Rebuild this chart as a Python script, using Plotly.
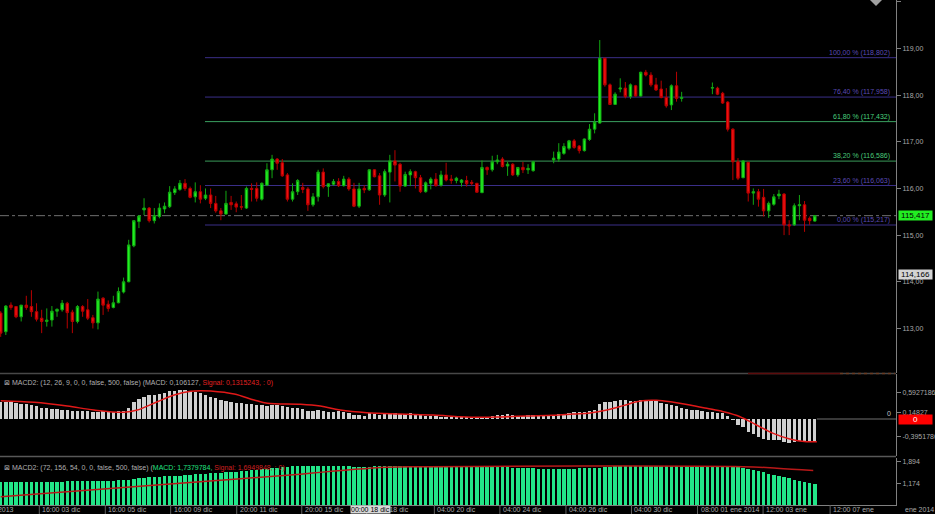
import plotly.graph_objects as go

# ---------------- data (4h bars, USD/JPY-like) ----------------
bar_index = list(range(160))
N = None
opens = [113.33, 112.93, 113.50, 113.47, 113.25, 113.50, 113.47, 113.36, 113.22, 113.15,
         113.18, 113.37, 113.40, 113.54, 113.35, 113.15, 113.47, 113.40, 113.23, 113.12,
         113.65, 113.52, 113.45, 113.55, 113.78, 114.00, 114.77, 115.29, 115.54, 115.58,
         115.31, 115.40, 115.56, 115.61, 115.91, 115.98, 116.11, 116.00, 115.82, 115.93,
         115.79, 115.86, 115.68, 115.52, 115.45, 115.70, 115.67, 115.61, 115.58, 116.00,
         116.00, 115.77, 116.07, 116.40, 116.63, 116.55, 116.29, 115.77, 115.93, 116.02,
         115.99, 115.65, 115.82, 116.35, 116.04, 116.09, 116.15, 116.06, 116.20, 115.99,
         115.62, 116.00, 115.97, 116.40, 116.27, 115.86, 116.35, 116.59, 116.52, 116.05,
         116.29, 116.36, 116.23, 115.93, 116.11, 116.20, 116.07, 116.29, 116.20, 116.17,
         116.13, 116.17, 116.13, 116.11, 115.91, 116.45, 116.40, 116.57, 116.63, 116.48,
         116.52, 116.29, 116.45, 116.40, 116.38, N, N, N, 116.61, 116.63,
         116.75, 116.86, 117.02, 116.91, 116.81, 117.05, 117.27, 117.40, 118.79, 118.22,
         117.80, 118.13, 118.15, 117.97, 118.20, 117.98, 118.49, 118.43, 118.22, 118.13,
         117.95, 117.79, 118.20, 117.93, N, N, N, N, N, 118.15,
         118.15, 118.04, 117.85, 117.27, 116.57, 116.23, 116.56, 115.90, 115.93, 115.81,
         115.52, 115.66, 115.84, 115.88, 115.22, 115.22, 115.63, 115.65, 115.36, 115.30]
highs = [113.37, 113.50, 113.56, 113.47, 113.50, 113.70, 113.82, 113.54, 113.40, 113.43,
         113.48, 113.43, 113.61, 113.57, 113.40, 113.50, 113.50, 113.63, 113.29, 113.79,
         113.67, 113.60, 113.70, 113.88, 114.09, 114.90, 115.32, 115.43, 115.79, 115.60,
         115.58, 115.68, 115.70, 116.05, 116.05, 116.18, 116.20, 116.04, 116.13, 116.07,
         116.00, 116.00, 115.84, 115.58, 115.95, 115.84, 115.72, 115.86, 116.04, 116.11,
         116.13, 116.13, 116.54, 116.72, 116.65, 116.63, 116.33, 116.11, 116.20, 116.12,
         116.03, 115.90, 116.40, 116.43, 116.11, 116.20, 116.22, 116.27, 116.24, 116.12,
         116.12, 116.07, 116.41, 116.41, 116.33, 116.41, 116.72, 116.82, 116.55, 116.36,
         116.41, 116.38, 116.29, 116.15, 116.24, 116.33, 116.38, 116.55, 116.29, 116.25,
         116.20, 116.27, 116.18, 116.12, 116.60, 116.47, 116.70, 116.72, 116.67, 116.57,
         116.54, 116.45, 116.57, 116.52, 116.59, N, N, N, 116.79, 116.97,
         116.97, 117.04, 117.06, 116.93, 117.07, 117.38, 117.61, 119.18, 118.80, 118.25,
         118.06, 118.36, 118.28, 118.25, 118.22, 118.50, 118.54, 118.49, 118.37, 118.31,
         118.15, 118.23, 118.50, 118.07, N, N, N, N, N, 118.27,
         118.18, 118.07, 117.87, 117.29, 116.65, 116.61, 116.57, 116.00, 115.99, 115.99,
         115.72, 115.88, 115.97, 115.90, 115.32, 115.68, 115.86, 115.73, 115.40, 115.43]
lows = [112.82, 112.86, 113.40, 113.22, 113.15, 113.40, 113.25, 113.15, 112.90, 113.04,
        113.04, 113.25, 113.36, 113.00, 112.90, 113.11, 113.25, 113.18, 113.00, 112.98,
        113.29, 113.36, 113.43, 113.54, 113.75, 113.99, 114.74, 115.15, 115.43, 115.27,
        115.25, 115.36, 115.47, 115.58, 115.86, 115.95, 115.95, 115.79, 115.70, 115.68,
        115.75, 115.58, 115.48, 115.32, 115.44, 115.54, 115.49, 115.54, 115.56, 115.72,
        115.72, 115.74, 116.05, 116.22, 116.40, 116.25, 115.72, 115.72, 115.86, 115.90,
        115.52, 115.61, 115.72, 116.00, 115.82, 116.06, 116.03, 116.04, 115.95, 115.60,
        115.58, 115.90, 115.95, 116.24, 115.65, 115.82, 115.70, 116.15, 115.93, 116.04,
        116.05, 116.00, 115.90, 115.91, 115.98, 116.04, 116.04, 116.15, 116.10, 116.11,
        116.04, 116.04, 116.06, 115.91, 115.90, 116.29, 116.36, 116.52, 116.45, 116.27,
        116.27, 116.25, 116.33, 116.31, 116.36, N, N, N, 116.54, 116.57,
        116.72, 116.82, 116.85, 116.75, 116.79, 117.02, 117.18, 117.39, 118.18, 117.79,
        117.79, 118.06, 117.93, 117.92, 117.97, 117.97, 118.40, 118.18, 118.09, 117.93,
        117.73, 117.68, 117.86, 117.86, N, N, N, N, N, 118.02,
        118.00, 117.81, 117.22, 116.18, 116.18, 116.22, 115.72, 115.65, 115.61, 115.40,
        115.37, 115.63, 115.77, 115.00, 115.00, 115.20, 115.32, 115.07, 115.22, 115.29]
closes = [112.90, 113.48, 113.45, 113.25, 113.50, 113.45, 113.36, 113.20, 113.15, 113.18,
          113.37, 113.41, 113.54, 113.34, 113.15, 113.47, 113.37, 113.22, 113.12, 113.63,
          113.50, 113.43, 113.55, 113.79, 114.00, 114.79, 115.31, 115.41, 115.58, 115.31,
          115.42, 115.58, 115.62, 115.92, 115.99, 116.11, 116.00, 115.81, 115.93, 115.77,
          115.86, 115.68, 115.52, 115.45, 115.68, 115.65, 115.60, 115.60, 116.00, 115.98,
          115.79, 116.11, 116.40, 116.63, 116.54, 116.27, 115.77, 115.93, 116.17, 115.98,
          115.65, 115.82, 116.35, 116.04, 116.10, 116.15, 116.06, 116.20, 115.99, 115.62,
          115.99, 115.97, 116.40, 116.25, 115.86, 116.36, 116.59, 116.50, 116.05, 116.30,
          116.36, 116.23, 115.93, 116.12, 116.20, 116.06, 116.29, 116.18, 116.17, 116.22,
          116.18, 116.10, 116.11, 115.92, 116.45, 116.40, 116.57, 116.61, 116.47, 116.52,
          116.29, 116.45, 116.40, 116.43, 116.57, N, N, N, 116.65, 116.78,
          116.90, 117.02, 116.88, 116.81, 117.06, 117.27, 117.42, 118.79, 118.22, 117.80,
          118.02, 118.15, 117.97, 118.22, 117.98, 118.49, 118.43, 118.22, 118.11, 117.95,
          117.77, 118.20, 117.93, 117.95, N, N, N, N, N, 118.16,
          118.02, 117.83, 117.27, 116.57, 116.22, 116.59, 115.90, 115.93, 115.77, 115.52,
          115.68, 115.82, 115.88, 115.22, 115.20, 115.63, 115.65, 115.32, 115.31, 115.417]

# MACD (12, 26, 9) histogram values and signal line samples
macd_fast = [0.389, 0.375, 0.375, 0.360, 0.345, 0.330, 0.322, 0.292, 0.255, 0.240,
             0.225, 0.217, 0.202, 0.195, 0.187, 0.180, 0.180, 0.172, 0.157, 0.165,
             0.172, 0.165, 0.165, 0.172, 0.187, 0.255, 0.375, 0.442, 0.502, 0.532,
             0.539, 0.562, 0.592, 0.622, 0.637, 0.652, 0.652, 0.629, 0.607, 0.577,
             0.532, 0.502, 0.464, 0.427, 0.412, 0.389, 0.367, 0.352, 0.345, 0.345,
             0.322, 0.307, 0.300, 0.307, 0.307, 0.300, 0.277, 0.255, 0.247, 0.230,
             0.190, 0.180, 0.195, 0.172, 0.165, 0.165, 0.172, 0.150, 0.142, 0.090,
             0.090, 0.075, 0.127, 0.112, 0.097, 0.105, 0.105, 0.135, 0.120, 0.105,
             0.135, 0.120, 0.090, 0.075, 0.075, 0.067, 0.052, 0.052, 0.052, 0.052,
             0.045, 0.037, 0.037, 0.030, 0.045, 0.045, 0.067, 0.082, 0.090, 0.105,
             0.090, 0.075, 0.075, 0.082, 0.082, 0.082, 0.082, 0.075, 0.090, 0.105,
             0.120, 0.142, 0.150, 0.150, 0.157, 0.187, 0.210, 0.330, 0.390, 0.390,
             0.404, 0.419, 0.419, 0.412, 0.404, 0.427, 0.419, 0.404, 0.404, 0.359,
             0.330, 0.315, 0.285, 0.255, 0.232, 0.210, 0.195, 0.180, 0.165, 0.150,
             0.142, 0.135, 0.075, -0.022, -0.135, -0.180, -0.285, -0.345, -0.397, -0.449,
             -0.479, -0.479, -0.479, -0.524, -0.547, -0.509, -0.502, -0.494, -0.494, -0.494]
fast_signal_x = [0, 6.5, 13, 18.2, 24.1, 26.7, 30.6, 33.9, 37.1, 39, 41, 45.6, 49.5, 52.1,
                 58.6, 62.4, 66.3, 71.5, 78, 84.5, 89.7, 93.6, 97.5, 102.7, 107.9, 111.8,
                 115.1, 118.4, 121.6, 124.9, 128.1, 131.4, 134.6, 137.9, 141.1, 144.4,
                 147.6, 150.9, 154.1, 157.4, 159.4]
fast_signal = [0.412, 0.375, 0.292, 0.202, 0.150, 0.202, 0.389, 0.539, 0.622, 0.637, 0.629,
               0.562, 0.427, 0.352, 0.330, 0.290, 0.202, 0.142, 0.112, 0.090, 0.052, 0.037,
               0.045, 0.067, 0.082, 0.112, 0.135, 0.202, 0.300, 0.404, 0.419, 0.375, 0.315,
               0.240, 0.165, 0.052, -0.135, -0.322, -0.449, -0.509, -0.509]

# MACD (72, 156, 54)
macd_slow = [1.21, 1.21, 1.21, 1.215, 1.215, 1.22, 1.22,
             1.22, 1.225, 1.225, 1.23, 1.23, 1.235, 1.24,
             1.24, 1.245, 1.245, 1.25, 1.25, 1.255, 1.26,
             1.265, 1.265, 1.27, 1.27, 1.275,
             1.31, 1.345, 1.365,
             1.375, 1.385, 1.395, 1.405, 1.41, 1.42,
             1.435, 1.45, 1.465, 1.48, 1.49, 1.50,
             1.51, 1.52, 1.53, 1.54, 1.55, 1.56,
             1.58, 1.60, 1.62, 1.635, 1.65,
             1.665, 1.68, 1.695, 1.71,
             1.72, 1.735, 1.745, 1.75,
             1.755, 1.76, 1.76, 1.76, 1.755, 1.75, 1.745, 1.74, 1.735, 1.73,
             1.73, 1.73, 1.73, 1.735, 1.74, 1.74, 1.745, 1.75, 1.75, 1.755, 1.76,
             1.76, 1.76, 1.765, 1.765, 1.765, 1.765, 1.76, 1.76, 1.76, 1.76,
             1.755, 1.755, 1.75, 1.745, 1.74, 1.73, 1.72, 1.71, 1.705,
             1.70, 1.69, 1.68, 1.675, 1.67, 1.665, 1.665, 1.665, 1.665, 1.665,
             1.665, 1.665, 1.665, 1.67, 1.67, 1.675, 1.68, 1.70,
             1.72, 1.73, 1.74, 1.745, 1.75, 1.755, 1.76, 1.76, 1.765, 1.765,
             1.765, 1.765, 1.765, 1.765,
             1.765, 1.76, 1.76, 1.76, 1.76, 1.76, 1.755, 1.755, 1.75, 1.75, 1.745, 1.73,
             1.71, 1.69, 1.66, 1.62, 1.58, 1.54, 1.50, 1.46, 1.42, 1.38, 1.34, 1.30,
             1.26, 1.22, 1.18, 1.14]
slow_signal_x = [0, 19.4, 38.9, 58.5, 60.4, 75.4, 81.9, 145, 151.6, 158.7]
slow_signal = [0.73, 0.98, 1.23, 1.475, 1.51, 1.71, 1.73, 1.73, 1.68, 1.60]

# Fibonacci retracement
fib_pct = ["100,00", "76,40", "61,80", "38,20", "23,60", "0,00"]
fib_val = [118.802, 117.958, 117.432, 116.586, 116.063, 115.217]
fib_start = 39.9

price_ticks = [113, 114, 115, 116, 117, 118, 119, 120]
fast_ticks = [0.5927186, 0.14827, -0.3951786]
slow_ticks = [1.894, 1.174]
time_tick_pos = [7.54, 20.43, 33.2, 46.1, 58.8, 71.5, 84.7, 97.5, 110.4, 123.2, 136.1, 148.9, 162.0]
time_tick_labels = ["16:00 03 dic", "16:00 05 dic", "16:00 09 dic", "20:00 11 dic",
                    "20:00 15 dic", "00:00 18 dic", "04:00 20 dic", "04:00 24 dic",
                    "04:00 26 dic", "04:00 30 dic", "08:00 01 ene 2014", "12:00 03 ene",
                    "12:00 07 ene"]
last_price = 115.417
cursor_price = 114.166
cursor_time = "00:00 18 dic"
cursor_pos = 72.2

# ---------------- layout geometry ----------------
W, H = 935, 514
PLOT_R = 896
MB = 9
PH = H - MB
BAR_PX = 5.12
X0_PX = 0.7
x_lo = -X0_PX / BAR_PX
x_hi = (PLOT_R - X0_PX) / BAR_PX


def py(px):
    return 1 - px / PH


def pxp(px):
    return px / PLOT_R


def fmt(v, d):
    return f"{v:.{d}f}".replace(".", ",")


FONT = "Liberation Sans, Arial, sans-serif"
AX = "#808080"
TXT = "#a8a8a8"

valid = [i for i in bar_index if opens[i] is not None]

fig = go.Figure()
fig.add_trace(go.Candlestick(
    x=[bar_index[i] for i in valid],
    open=[opens[i] for i in valid], high=[highs[i] for i in valid],
    low=[lows[i] for i in valid], close=[closes[i] for i in valid],
    increasing=dict(line=dict(color="#12a812", width=1), fillcolor="#22f022"),
    decreasing=dict(line=dict(color="#b80000", width=1), fillcolor="#ee1010"),
    xaxis="x", yaxis="y", showlegend=False, hoverinfo="skip"))

fig.add_trace(go.Bar(x=bar_index, y=macd_fast, width=0.66, marker=dict(color="#d0d0d0", line=dict(width=0)),
                     xaxis="x2", yaxis="y2", showlegend=False, hoverinfo="skip"))
fig.add_trace(go.Scatter(x=fast_signal_x, y=fast_signal, mode="lines", line=dict(color="#e01818", width=1.5, shape="spline"),
                         xaxis="x2", yaxis="y2", showlegend=False, hoverinfo="skip"))
fig.add_trace(go.Bar(x=bar_index, y=macd_slow, width=0.68, marker=dict(color="#22e688", line=dict(width=0)),
                     xaxis="x3", yaxis="y3", showlegend=False, hoverinfo="skip"))
fig.add_trace(go.Scatter(x=slow_signal_x, y=slow_signal, mode="lines", line=dict(color="#b81818", width=1.5, shape="spline"),
                         xaxis="x3", yaxis="y3", showlegend=False, hoverinfo="skip"))

px_per_price = 46.67
top_price = 120.038
main_range = [top_price - 373 / px_per_price, top_price]
fast_range = [(419 - 456) / 44.5, (419 - 374) / 44.5]
slow_range = [1.894 - (505 - 461.7) / 30.1, 1.894 + (461.7 - 458) / 30.1]

yax_common = dict(side="right", showline=True, linecolor=AX, linewidth=1, ticks="outside", ticklen=4,
                  tickcolor=AX, tickfont=dict(size=7, color=TXT, family=FONT), showgrid=False,
                  zeroline=False, fixedrange=True)
xax_common = dict(range=[x_lo, x_hi], showgrid=False, zeroline=False, showticklabels=False,
                  ticks="", fixedrange=True)

fig.update_layout(
    width=W, height=H, margin=dict(l=0, r=W - PLOT_R, t=0, b=MB, autoexpand=False),
    paper_bgcolor="black", plot_bgcolor="black", font=dict(family=FONT, size=7, color=TXT),
    bargap=0, showlegend=False, hovermode=False,
    xaxis=dict(**xax_common, anchor="y", rangeslider=dict(visible=False), showline=False),
    xaxis2=dict(**xax_common, anchor="y2", matches="x", showline=False),
    xaxis3=dict(**xax_common, anchor="y3", matches="x", showline=True, linecolor=AX),
    yaxis=dict(**yax_common, domain=[py(373), 1], range=main_range, anchor="x",
               tickvals=price_ticks, ticktext=[fmt(v, 2) for v in price_ticks]),
    yaxis2=dict(**yax_common, domain=[py(456), py(374)], range=fast_range, anchor="x2",
                tickvals=fast_ticks, ticktext=[fmt(v, 7 if abs(v) > 0.2 else 5) for v in fast_ticks]),
    yaxis3=dict(**yax_common, domain=[0, py(458)], range=slow_range, anchor="x3",
                tickvals=slow_ticks, ticktext=[fmt(v, 3) for v in slow_ticks]),
)

shapes = []
# fibonacci lines
fib_colors = ["#3a2e88", "#3a2e88", "#3aa060", "#3a9a5a", "#3a2e88", "#3a2e88"]
fib_text_colors = ["#5a4ab4", "#5a4ab4", "#48d07c", "#48c878", "#5a4ab4", "#5a4ab4"]
for v, c in zip(fib_val, fib_colors):
    shapes.append(dict(type="line", xref="x", yref="y", x0=fib_start, x1=x_hi, y0=v, y1=v,
                       line=dict(color=c, width=1), layer="below"))
# last price dash-dot
shapes.append(dict(type="line", xref="paper", yref="y", x0=0, x1=1, y0=last_price, y1=last_price,
                   line=dict(color="#707070", width=1, dash="dashdot"), layer="below"))
# panel separators
shapes.append(dict(type="line", xref="paper", yref="paper", x0=0, x1=1, y0=py(373.5), y1=py(373.5),
                   line=dict(color="#484848", width=1.5)))
shapes.append(dict(type="line", xref="paper", yref="paper", x0=pxp(748), x1=pxp(840), y0=py(373.5), y1=py(373.5),
                   line=dict(color="#5c0c0c", width=1.5)))
shapes.append(dict(type="line", xref="paper", yref="paper", x0=pxp(840), x1=pxp(895), y0=py(373.5), y1=py(373.5),
                   line=dict(color="#6a3a20", width=1.5, dash="dot")))
shapes.append(dict(type="line", xref="paper", yref="paper", x0=0, x1=1, y0=py(456.5), y1=py(456.5),
                   line=dict(color="#585858", width=1.5)))
# macd zero line after last bar
shapes.append(dict(type="line", xref="x2", yref="y2", x0=bar_index[-1] + 0.4, x1=x_hi, y0=0, y1=0,
                   line=dict(color="#707070", width=1)))
# time tick separators
for p in time_tick_pos:
    shapes.append(dict(type="line", xref="x3", yref="paper", x0=p, x1=p, y0=py(514), y1=py(505),
                       line=dict(color="#606060", width=1)))
# small scroll marker at the top right
shapes.append(dict(type="path", xref="paper", yref="paper",
                   path=f"M {pxp(870)} {py(0)} L {pxp(882)} {py(0)} L {pxp(876)} {py(6)} Z",
                   fillcolor="#a0a0a0", line=dict(width=0)))
fig.update_layout(shapes=shapes)

ann = []
for pct, v, tc in zip(fib_pct, fib_val, fib_text_colors):
    ann.append(dict(xref="paper", yref="y", x=pxp(892), y=v, xanchor="right", yanchor="bottom",
                    text=f"{pct} % ({fmt(v, 3)})", showarrow=False, font=dict(size=7, color=tc, family=FONT),
                    yshift=-1))
# panel legends
ann.append(dict(xref="paper", yref="paper", x=pxp(2), y=py(383), xanchor="left", yanchor="middle", showarrow=False,
                text="<span style='color:#b0b0b0'>⊠ MACD2: (12, 26, 9, 0, 0, false, 500, false) (MACD: 0,106127, </span>"
                     "<span style='color:#e02020'>Signal: 0,1315243, : 0)</span>", font=dict(size=7, family=FONT)))
ann.append(dict(xref="paper", yref="paper", x=pxp(2), y=py(468), xanchor="left", yanchor="middle", showarrow=False,
                text="<span style='color:#b0b0b0'>⊠ MACD2: (72, 156, 54, 0, 0, false, 500, false) (</span>"
                     "<span style='color:#20e080'>MACD: 1,7379784, </span>"
                     "<span style='color:#d02020'>Signal: 1,6949848, : 0)</span>", font=dict(size=7, family=FONT)))
# right-side value boxes
ann.append(dict(xref="paper", yref="y", x=pxp(898), y=last_price, xanchor="left", yanchor="middle", showarrow=False,
                text=fmt(last_price, 3), bgcolor="#22ee22", font=dict(size=8, color="black", family=FONT),
                width=33, borderpad=0, align="center"))
ann.append(dict(xref="paper", yref="y", x=pxp(898), y=cursor_price, xanchor="left", yanchor="middle", showarrow=False,
                text=fmt(cursor_price, 3), bgcolor="#d4d4d4", font=dict(size=8, color="black", family=FONT),
                width=33, borderpad=0, align="center"))
ann.append(dict(xref="paper", yref="y2", x=pxp(898), y=0, xanchor="left", yanchor="middle", showarrow=False,
                text="0", bgcolor="#ff0000", font=dict(size=8, color="white", family=FONT),
                width=33, borderpad=0, align="center"))
ann.append(dict(xref="paper", yref="y2", x=pxp(893), y=0, xanchor="right", yanchor="bottom", showarrow=False,
                text="0", font=dict(size=7, color="#c0c0c0", family=FONT)))
# time labels
for p, t in zip(time_tick_pos, time_tick_labels):
    ann.append(dict(xref="x3", yref="paper", x=p, y=py(509.5), xanchor="left", yanchor="middle", showarrow=False,
                    text=t, xshift=1, font=dict(size=7, color=TXT, family=FONT)))
ann.append(dict(xref="paper", yref="paper", x=pxp(16), y=py(509.5), xanchor="right", yanchor="middle",
                showarrow=False, text="dic 2013", font=dict(size=7, color=TXT, family=FONT)))
ann.append(dict(xref="paper", yref="paper", x=pxp(920), y=py(509.5), xanchor="center", yanchor="middle",
                showarrow=False, text="ene 2014", font=dict(size=7, color=TXT, family=FONT)))
ann.append(dict(xref="x3", yref="paper", x=cursor_pos, y=py(509.5), xanchor="center", yanchor="middle",
                showarrow=False, text=cursor_time, bgcolor="#d8d8d8", borderpad=0,
                font=dict(size=7, color="black", family=FONT)))
fig.update_layout(annotations=ann)

fig.write_html("out.html", config={"displayModeBar": False},
               post_script="document.body.style.margin='0';document.body.style.padding='0';"
                           "document.body.style.background='black';")
